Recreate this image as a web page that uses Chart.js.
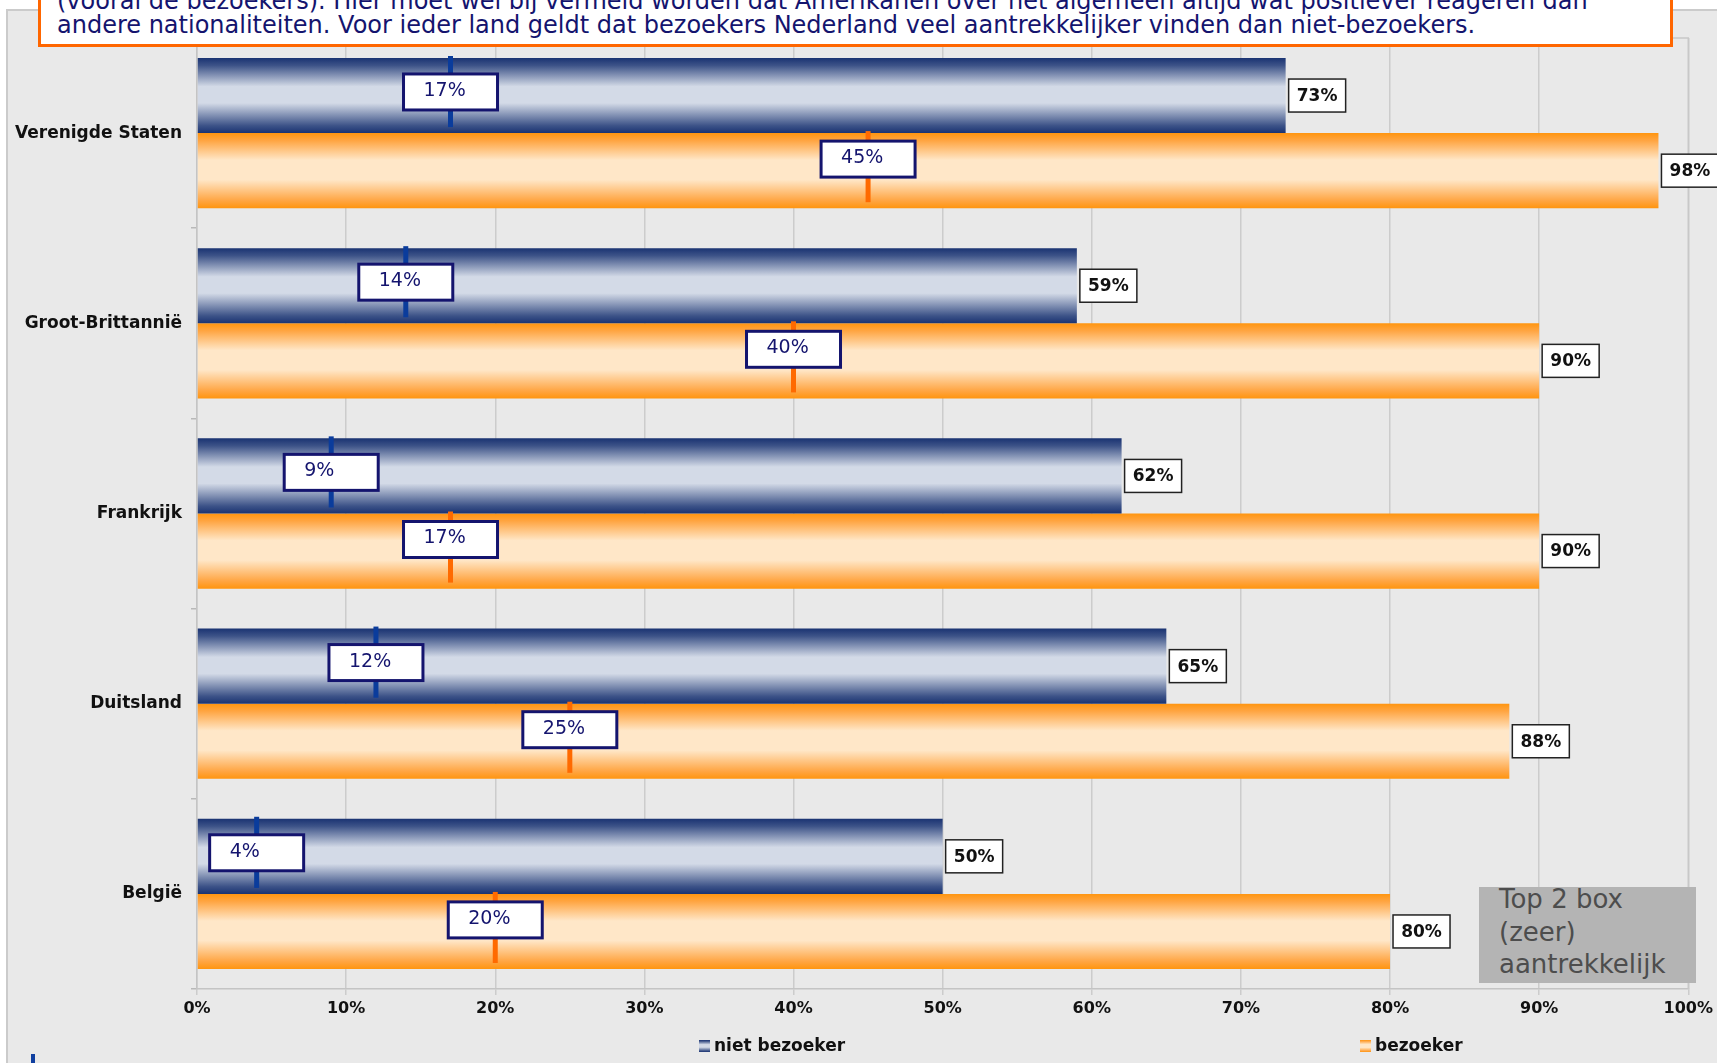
<!DOCTYPE html>
<html>
<head>
<meta charset="utf-8">
<script src="https://cdn.jsdelivr.net/npm/chart.js@4"></script>
<style>
  html, body { margin: 0; padding: 0; background: #ffffff; overflow: hidden; }
  #page { position: relative; width: 1717px; height: 1063px; overflow: hidden; font-family: "DejaVu Sans", sans-serif; }
  #frame { position: absolute; left: 6px; top: 9px; width: 1800px; height: 1200px; background: #e9e9e9;
           border-left: 2px solid #cbcbcb; border-top: 2px solid #cbcbcb; }
  #chartBox { position: absolute; left: 0; top: 0; width: 1717px; height: 1063px; }
  #note { position: absolute; left: 38px; top: -14px; width: 1613px; height: 48px; padding: 0 0 7px 16px;
          background: #ffffff; border: 3px solid #ff6600; color: #14146e; font-size: 24px; line-height: 24px;
          white-space: nowrap; overflow: hidden; }
  #topBox { position: absolute; left: 1479px; top: 887px; width: 197px; height: 96px; padding-left: 20px;
            background: #b4b4b4; color: #4d4d4d; font-size: 26px; line-height: 32.5px; overflow: hidden; }
  #topBox span { position: relative; top: -4px; }
  #mark { position: absolute; left: 31px; top: 1054px; width: 4px; height: 10px; background: #1040a0; }
</style>
</head>
<body>
<div id="page">
  <div id="frame"></div>
  <div id="chartBox"><canvas id="attractChart" width="1717" height="1063"></canvas></div>
  <div id="note">(vooral de bezoekers). Hier moet wel bij vermeld worden dat Amerikanen over het algemeen altijd wat positiever reageren dan<br>andere nationaliteiten. Voor ieder land geldt dat bezoekers Nederland veel aantrekkelijker vinden dan niet-bezoekers.</div>
  <div id="topBox"><span>Top 2 box<br>(zeer)<br>aantrekkelijk</span></div>
  <div id="mark"></div>
</div>
<script>
// Data
const categories = ["Verenigde Staten", "Groot-Brittannië", "Frankrijk", "Duitsland", "België"];
const seriesNames = ["niet bezoeker", "bezoeker"];
const nietBezoeker = [73, 59, 62, 65, 50];
const bezoeker = [98, 90, 90, 88, 80];
// marker values shown in the boxed labels inside the bars
const nietBezoekerMarker = [17, 14, 9, 12, 4];
const bezoekerMarker = [45, 40, 17, 25, 20];

const FONT = "'DejaVu Sans', sans-serif";

const GRADIENTS = [
  [[0, "#1a3372"], [0.1, "#3d5388"], [0.38, "#d3dae7"], [0.6, "#d3dae7"], [0.9, "#3d5388"], [1, "#1a3372"]],
  [[0, "#ff950f"], [0.1, "#ffa542"], [0.36, "#ffe7c8"], [0.62, "#ffe7c8"], [0.9, "#ffa542"], [1, "#ff950f"]]
];
const MARKER_COLORS = ["#0a3c9c", "#ff6a00"];
const MARKERS = [nietBezoekerMarker, bezoekerMarker];

function makeGradient(ctx, top, height, stops) {
  const g = ctx.createLinearGradient(0, top, 0, top + height);
  stops.forEach(([p, c]) => g.addColorStop(p, c));
  return g;
}

// Vertical shaded fill for every bar
const barShading = {
  id: "barShading",
  beforeDatasetDraw(chart, args) {
    const meta = args.meta;
    meta.data.forEach(el => {
      const top = el.y - el.height / 2;
      const grad = makeGradient(chart.ctx, top, el.height, GRADIENTS[args.index]);
      el.options = Object.assign({}, el.options, { backgroundColor: grad });
    });
  }
};

// Plot frame (top + right edge)
const plotFrame = {
  id: "plotFrame",
  beforeDatasetsDraw(chart) {
    const { ctx, chartArea: a } = chart;
    ctx.save();
    ctx.strokeStyle = "#c8c8c8";
    ctx.lineWidth = 1.5;
    ctx.beginPath();
    ctx.moveTo(a.left, a.top);
    ctx.lineTo(a.right, a.top);
    ctx.lineTo(a.right, a.bottom);
    ctx.stroke();
    ctx.restore();
  }
};

// Marker lines with boxed labels, and value boxes at the bar ends
const barLabels = {
  id: "barLabels",
  afterDatasetsDraw(chart) {
    const { ctx } = chart;
    const xScale = chart.scales.x;
    ctx.save();
    chart.data.datasets.forEach((ds, i) => {
      const meta = chart.getDatasetMeta(i);
      meta.data.forEach((el, j) => {
        const top = el.y - el.height / 2;
        const bottom = el.y + el.height / 2;

        // end-of-bar value
        const bx = el.x + 3, bw = 57, bh = 33;
        ctx.fillStyle = "#ffffff";
        ctx.fillRect(bx, el.y - bh / 2, bw, bh);
        ctx.strokeStyle = "#222222";
        ctx.lineWidth = 1.5;
        ctx.strokeRect(bx, el.y - bh / 2, bw, bh);
        ctx.fillStyle = "#111111";
        ctx.font = "bold 17px " + FONT;
        ctx.textAlign = "center";
        ctx.textBaseline = "middle";
        ctx.fillText(ds.data[j] + "%", bx + bw / 2, el.y + 1);

        // marker
        const mv = MARKERS[i][j];
        const mx = xScale.getPixelForValue(mv);
        ctx.strokeStyle = MARKER_COLORS[i];
        ctx.lineWidth = 5;
        ctx.beginPath();
        ctx.moveTo(mx, top - 2);
        ctx.lineTo(mx, bottom - 6);
        ctx.stroke();

        const w = 94, h = 36;
        const lx = Math.max(mx - w / 2, chart.chartArea.left + 1);
        const ly = top + (i === 0 ? 16 : 8);
        ctx.fillStyle = "#ffffff";
        ctx.fillRect(lx, ly, w, h);
        ctx.strokeStyle = "#14146e";
        ctx.lineWidth = 3;
        ctx.strokeRect(lx, ly, w, h);
        ctx.fillStyle = "#14146e";
        ctx.font = "19px " + FONT;
        ctx.textAlign = "left";
        ctx.fillText(mv + "%", lx + 20, ly + h / 2 - 1);
      });
    });
    ctx.restore();
  }
};

// Legend spread under the axis
const LEGEND_POS = [699, 1360];
const spreadLegend = {
  id: "spreadLegend",
  afterDraw(chart) {
    const { ctx } = chart;
    const y = 1046;
    ctx.save();
    chart.data.datasets.forEach((ds, i) => {
      const x = LEGEND_POS[i];
      ctx.fillStyle = makeGradient(ctx, y - 6, 12, GRADIENTS[i]);
      ctx.fillRect(x, y - 6, 11, 12);
      ctx.fillStyle = "#111111";
      ctx.font = "bold 17px " + FONT;
      ctx.textAlign = "left";
      ctx.textBaseline = "middle";
      ctx.fillText(ds.label, x + 15, y + 1);
    });
    ctx.restore();
  }
};

new Chart(document.getElementById("attractChart"), {
  type: "bar",
  data: {
    labels: categories,
    datasets: [
      { label: seriesNames[0], data: nietBezoeker, backgroundColor: "#8a9ab8", borderWidth: 0 },
      { label: seriesNames[1], data: bezoeker, backgroundColor: "#ffc070", borderWidth: 0 }
    ]
  },
  options: {
    indexAxis: "y",
    responsive: false,
    animation: false,
    categoryPercentage: 0.79,
    barPercentage: 1,
    layout: { padding: { top: 38, right: 25, left: 0, bottom: 0 } },
    plugins: {
      legend: { display: false },
      tooltip: { enabled: false }
    },
    scales: {
      x: {
        min: 0,
        max: 100,
        ticks: {
          stepSize: 10,
          padding: 4,
          color: "#111111",
          font: { family: FONT, size: 16, weight: "bold" },
          callback: v => v + "%"
        },
        grid: { color: "#cccccc", lineWidth: 1.5, tickLength: 6 },
        border: { color: "#c4c4c4", width: 1.5 },
        afterFit: scale => { scale.height = 74; }
      },
      y: {
        ticks: {
          padding: 9,
          color: "#111111",
          font: { family: FONT, size: 17, weight: "bold" }
        },
        grid: { drawOnChartArea: false, color: "#b8b8b8", tickLength: 6, lineWidth: 1.5 },
        border: { color: "#c4c4c4", width: 1.5 },
        afterFit: scale => { scale.width = 197; }
      }
    }
  },
  plugins: [barShading, plotFrame, barLabels, spreadLegend]
});
</script>
</body>
</html>
